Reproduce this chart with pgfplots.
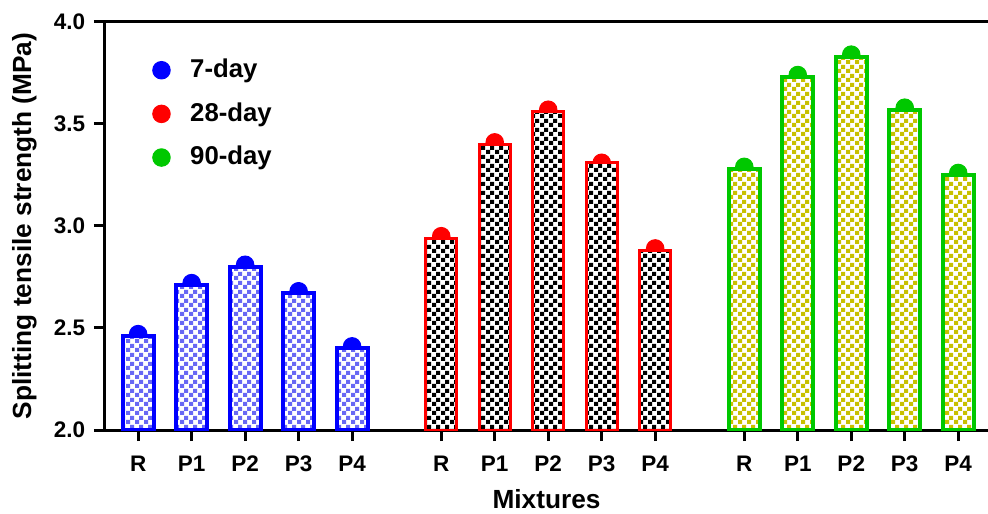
\documentclass[border=0pt]{standalone}
\usepackage{fontspec}
\setmainfont{Liberation Sans}
\usepackage{pgfplots}
\pgfplotsset{compat=1.18}
\usetikzlibrary{patterns}
\pgfdeclarepatternformonly{smallcheck}{\pgfpointorigin}{\pgfqpoint{3.6pt}{3.6pt}}{\pgfqpoint{3.6pt}{3.6pt}}{%
 \pgfpathrectangle{\pgfpointorigin}{\pgfqpoint{1.8pt}{1.8pt}}%
 \pgfpathrectangle{\pgfqpoint{1.8pt}{1.8pt}}{\pgfqpoint{1.8pt}{1.8pt}}%
 \pgfusepath{fill}}
\definecolor{cblue}{HTML}{0000FF}
\definecolor{cred}{HTML}{FF0000}
\definecolor{cgreen}{HTML}{00C800}
\definecolor{pblue}{HTML}{6868F4}
\definecolor{polive}{HTML}{C8C000}
\begin{document}
\begin{tikzpicture}
\begin{axis}[
  name=ax,
  scale only axis,
  width=353.2pt, height=163.2pt,
  xmin=-0.62, xmax=15.89,
  ymin=2, ymax=4,
  separate axis lines,
  axis x line*=box,
  axis y line*=left,
  axis line style={line width=1.2pt,-},
  xtick pos=bottom, ytick pos=left,
  tick align=outside,
  major tick length=4.4pt,
  tick style={line width=1.2pt,black},
  xtick={0,1,2,3,4,5.667,6.667,7.667,8.667,9.667,11.333,12.333,13.333,14.333,15.333},
  xticklabels={R,P1,P2,P3,P4,R,P1,P2,P3,P4,R,P1,P2,P3,P4},
  ytick={2,2.5,3,3.5,4},
  yticklabel style={/pgf/number format/.cd, fixed, fixed zerofill, precision=1},
  /pgf/number format/assume math mode=true,
  ticklabel style={font=\fontsize{9}{10}\selectfont\bfseries},
  xticklabel style={yshift=-2.5pt},
  xlabel={Mixtures},
  ylabel={Splitting tensile strength (MPa)},
  label style={font=\fontsize{10.5}{12}\selectfont\bfseries},
  clip marker paths=true,
  legend style={draw=none, fill=none, at={(0.045,0.935)}, anchor=north west,
    font=\fontsize{10.3}{12}\selectfont\bfseries, row sep=4.5pt, column sep=6pt,
    cells={anchor=west}},
]
% dots (drawn first, bars cover their lower half)
\addplot[only marks, mark=*, mark size=3.5pt, color=cblue] coordinates {
 (0,2.47) (1,2.72) (2,2.81) (3,2.68) (4,2.41)};
\addlegendentry{7-day}
\addplot[only marks, mark=*, mark size=3.5pt, color=cred] coordinates {
 (5.667,2.95) (6.667,3.41) (7.667,3.57) (8.667,3.31) (9.667,2.89)};
\addlegendentry{28-day}
\addplot[only marks, mark=*, mark size=3.5pt, color=cgreen] coordinates {
 (11.333,3.29) (12.333,3.74) (13.333,3.84) (14.333,3.58) (15.333,3.26)};
\addlegendentry{90-day}
% bars
\addplot[forget plot, ybar, bar shift=0pt, bar width=0.58, draw=cblue, line width=1.6pt,
  fill=white, postaction={pattern=smallcheck, pattern color=pblue}] coordinates {
 (0,2.46) (1,2.71) (2,2.80) (3,2.67) (4,2.40)};
\addplot[forget plot, ybar, bar shift=0pt, bar width=0.58, draw=cred, line width=1.2pt,
  fill=white, postaction={pattern=smallcheck, pattern color=black}] coordinates {
 (5.667,2.94) (6.667,3.40) (7.667,3.56) (8.667,3.31) (9.667,2.88)};
\addplot[forget plot, ybar, bar shift=0pt, bar width=0.58, draw=cgreen, line width=1.5pt,
  fill=white, postaction={pattern=smallcheck, pattern color=polive}] coordinates {
 (11.333,3.28) (12.333,3.73) (13.333,3.83) (14.333,3.57) (15.333,3.25)};
\end{axis}
\pgfresetboundingbox
\path[use as bounding box] ([xshift=-42pt,yshift=-33.6pt]ax.south west) rectangle ([yshift=8.8pt]ax.north east);
\end{tikzpicture}
\end{document}
